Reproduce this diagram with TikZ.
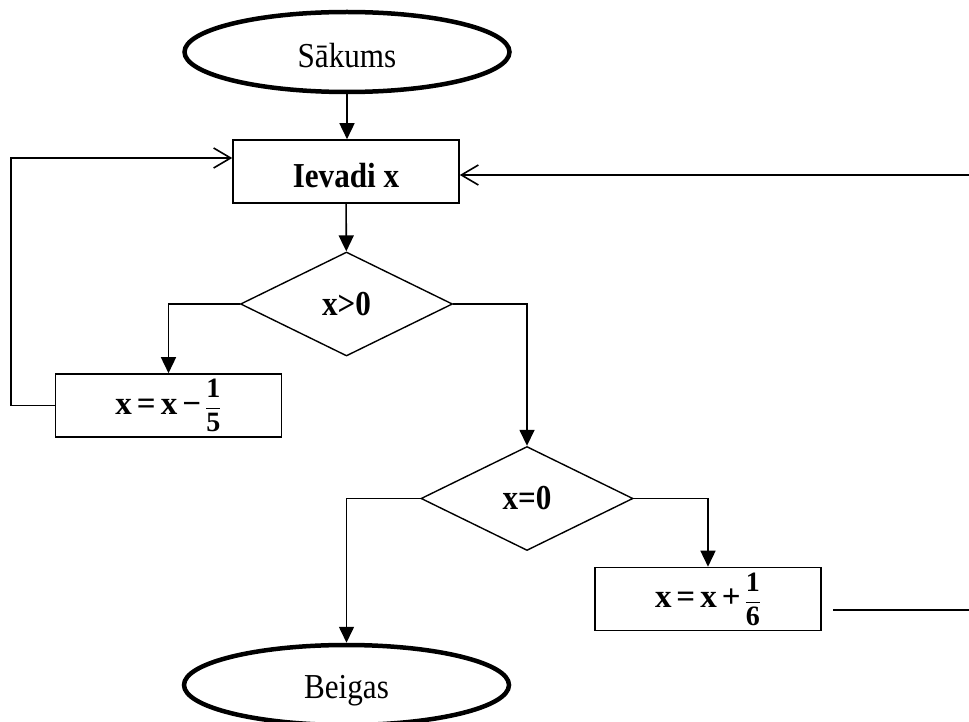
\documentclass[tikz,border=0pt]{standalone}
\usepackage{fontspec}
\setmainfont{Liberation Serif}
\usetikzlibrary{shapes.geometric,arrows.meta}

% narrow, tall lettering used in the block labels
\newcommand{\tl}[1]{\scalebox{0.89}[1]{#1}}
% digits of the fraction
\newcommand{\fd}[1]{\hbox{\fontsize{28}{28}\selectfont\bfseries #1}}
% bold update formula: x = x <op> 1/<n>
\newcommand{\upd}[2]{\bfseries x\kern5pt=\kern5pt x\kern5pt#1\kern4pt%
  $\displaystyle\frac{\fd{1}}{\fd{#2}}$}

\tikzset{
  term/.style={draw, ellipse, line width=4.5pt, minimum width=325pt,
    minimum height=80pt, inner sep=0pt, text depth=0pt,
    font=\fontsize{35}{40}\selectfont},
  proc/.style={draw, line width=1.6pt, minimum width=226pt, minimum height=63pt,
    inner sep=0pt, font=\fontsize{35}{40}\selectfont\bfseries},
  updbox/.style={proc, font=\fontsize{33}{36}\selectfont},
  cond/.style={draw, diamond, aspect=2.04, line width=1.4pt, minimum width=212pt,
    minimum height=104pt, inner sep=0pt, font=\fontsize{35}{40}\selectfont\bfseries},
  flow/.style={line width=1.6pt, -{Triangle[width=15pt,length=16pt]}},
  back/.style={line width=1.6pt, -{Straight Barb[width=20pt,length=17pt]}},
  plain/.style={line width=1.6pt}
}

\begin{document}
\begin{tikzpicture}[x=1pt,y=-1pt]
  \useasboundingbox (0,0) rectangle (969,722);

  % blocks
  \node[term, text height=32pt] (start) at (347,52) {\tl{Sākums}};
  \node[proc, text height=33pt, text depth=0pt] (input) at (346,171.5) {\tl{Ievadi x}};
  \node[cond] (gt) at (346.5,304) {\tl{x>0}};
  \node[updbox] (dec) at (168.5,405.5) {\upd{−}{5}};
  \node[cond] (eq) at (527,498.5) {\tl{x=0}};
  \node[updbox] (inc) at (708,599) {\upd{+}{6}};
  \node[term, text height=26pt] (stop) at (346.5,685) {\tl{Beigas}};

  % loose ends on the right
  \coordinate (rin) at (969,175);
  \coordinate (routL) at (833,610);
  \coordinate (rout) at (969,610);

  % main flow
  \draw[flow] (start.south) -- (start.south |- input.north);
  \draw[flow] (input) -- (gt);
  \draw[flow] (gt.west) -| (dec.north);
  \draw[flow] (gt.east) -| (eq.north);
  \draw[flow] (eq.west) -| (stop.north);
  \draw[flow] (eq.east) -| (inc.north);

  % return paths to the input block
  \draw[back] (dec.west) -- ++(-44,0) |- ([yshift=13.5pt]input.west);
  \draw[back] (rin) -- (input.east |- rin);
  \draw[plain] (routL) -- (rout);
\end{tikzpicture}
\end{document}
